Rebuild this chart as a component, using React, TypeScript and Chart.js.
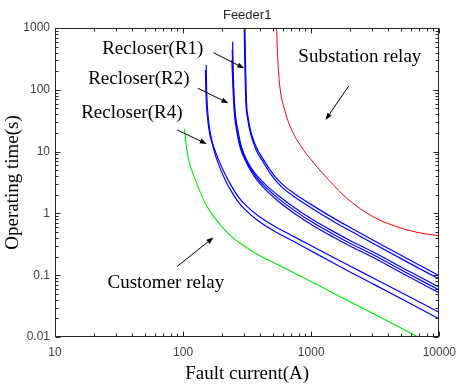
import React, { useEffect, useRef } from "react";
import { Chart, registerables } from "chart.js";

Chart.register(...registerables);

// ---- axis ticks ----
const xTickValues = [10, 100, 1000, 10000];
const xTickLabels = ["10", "100", "1000", "10000"];
const yTickValues = [0.01, 0.1, 1, 10, 100, 1000];
const yTickLabels = ["0.01", "0.1", "1", "10", "100", "1000"];

// ---- curves: fault current (A) vs operating time (s) ----
const r1aCurrent = [303.8, 306.5, 312.0, 322.2, 340.0, 371.7, 421.0, 477.1, 550.2, 634.6, 732, 1045.7, 1494, 2134, 3049, 5591, 10000];
const r1aTime = [1000, 303.9, 68.55, 35.1, 20.07, 11.92, 7.627, 5.063, 3.489, 2.639, 2.127, 1.311, 0.8387, 0.5529, 0.367, 0.1857, 0.0979];
const r1bCurrent = [300.1, 302.7, 308.2, 318.2, 340.0, 371.7, 421.0, 477.1, 550.2, 634.6, 732, 1045.7, 1494, 2134, 3049, 5591, 10000];
const r1bTime = [1000, 303.9, 68.55, 35.1, 17.95, 10.66, 6.822, 4.495, 3.097, 2.334, 1.881, 1.16, 0.7418, 0.489, 0.3246, 0.1643, 0.0866];

const r2aCurrent = [243.6, 245.8, 251.0, 257.8, 267.2, 284.4, 312.6, 363.1, 434.0, 550.2, 732, 1045.7, 1494, 2134, 3049, 5591, 10000];
const r2aTime = [600.4, 209.4, 68.55, 35.1, 22.44, 12.37, 7.347, 4.479, 3.007, 1.96, 1.254, 0.7727, 0.5075, 0.342, 0.2374, 0.1206, 0.0638];
const r2bCurrent = [241.8, 244.5, 249.3, 255.6, 264.3, 280.4, 312.6, 363.1, 434.0, 550.2, 732, 1045.7, 1494, 2134, 3049, 5591, 10000];
const r2bTime = [440.9, 209.4, 68.55, 35.1, 22.44, 12.37, 6.949, 4.156, 2.74, 1.766, 1.13, 0.6964, 0.4572, 0.3082, 0.214, 0.1087, 0.0575];
const r2cCurrent = [240.1, 247.5, 253.3, 261.5, 276.4, 312.6, 363.1, 434.0, 550.2, 732, 1045.7, 1494, 2134, 3049, 5591, 10000];
const r2cTime = [303.9, 68.55, 35.1, 22.44, 12.37, 6.571, 3.858, 2.496, 1.591, 1.018, 0.6273, 0.4119, 0.2777, 0.1928, 0.0979, 0.0518];

const r4aCurrent = [151.5, 152.3, 153.7, 156.4, 161.6, 169.6, 180.5, 193.9, 213.8, 239.3, 269.6, 303.8, 385.2, 512.3, 732, 1045.7, 1494, 2134, 3049, 5591, 10000];
const r4aTime = [252.2, 119.8, 68.55, 39.23, 22.44, 13.83, 9.533, 6.571, 4.204, 2.74, 1.853, 1.402, 0.9138, 0.625, 0.4212, 0.285, 0.1935, 0.1319, 0.0902, 0.047, 0.02497];
const r4bCurrent = [149.4, 150.2, 151.5, 154.3, 159.3, 169.6, 180.5, 193.9, 213.8, 239.3, 269.6, 303.8, 385.2, 512.3, 732, 1045.7, 1494, 2134, 3049, 5591, 10000];
const r4bTime = [209.4, 119.8, 68.55, 39.23, 22.44, 12.84, 8.215, 5.456, 3.425, 2.233, 1.539, 1.164, 0.7586, 0.5189, 0.3499, 0.2339, 0.1571, 0.1059, 0.0719, 0.0371, 0.01953];

const substationCurrent = [537.7, 546.3, 558.1, 573.3, 623.3, 703.8, 829.1, 1045.7, 1391, 1918, 3049, 4677, 6680, 10000];
const substationTime = [1000, 366, 173.9, 99.47, 45.51, 22.44, 12.37, 6.571, 3.362, 1.72, 0.8805, 0.6067, 0.4943, 0.4341];

const customerCurrent = [102.3, 105.7, 110.5, 124.6, 148.9, 169.6, 200.1, 242.3, 303.8, 378.4, 488.3, 732, 1391, 2519, 4571, 6839];
const customerTime = [23.29, 12.84, 7.347, 3.489, 1.466, 0.9484, 0.6134, 0.4104, 0.2914, 0.218, 0.1667, 0.1095, 0.055, 0.0292, 0.0155, 0.01];

// ---- annotations (data coordinates) ----
const labelTexts = ["Recloser(R1)", "Recloser(R2)", "Recloser(R4)", "Substation relay", "Customer relay"];
const labelCurrent = [58.0, 45.1, 39.8, 2397, 73.3];
const labelTime = [452, 148, 41.8, 336, 0.0746];
const arrowFromCurrent = [172.6, 130.5, 89.7, 1963, 89.7];
const arrowFromTime = [399, 106, 22.4, 115.5, 0.1384];
const arrowToCurrent = [300, 225.6, 153.1, 1295, 172.6];
const arrowToTime = [223, 60.6, 13.3, 32.6, 0.4075];

const chartTitle = "Feeder1";
const xTitle = "Fault current(A)";
const yTitle = "Operating time(s)";

const zip = (xs: number[], ys: number[]) => xs.map((v, i) => ({ x: v, y: ys[i] }));

const SERIF = "'Liberation Serif', 'Times New Roman', serif";
const SANS = "'Liberation Sans', Arial, sans-serif";

const overlayPlugin = {
  id: "overlay",
  afterDraw(chart: any) {
    const { ctx, chartArea } = chart;
    const xs = chart.scales.x;
    const ys = chart.scales.y;
    const L = Math.round(chartArea.left) + 0.5;
    const R = Math.round(chartArea.right) - 0.5;
    const T = Math.round(chartArea.top) + 0.5;
    const B = Math.round(chartArea.bottom) - 0.5;
    ctx.save();
    ctx.strokeStyle = "#262626";
    ctx.lineWidth = 1;
    ctx.strokeRect(L, T, R - L, B - T);
    // major + minor ticks, pointing inward on all four sides
    ctx.beginPath();
    const xmin = Math.round(Math.log10(xTickValues[0]));
    const xmax = Math.round(Math.log10(xTickValues[xTickValues.length - 1]));
    for (let k = xmin; k <= xmax; k++) {
      for (let m = 1; m <= 9; m++) {
        const v = m * Math.pow(10, k);
        if (v > xTickValues[xTickValues.length - 1] * 1.0001) break;
        const p = Math.round(xs.getPixelForValue(v)) + 0.5;
        const len = m === 1 ? 5 : 3;
        ctx.moveTo(p, B);
        ctx.lineTo(p, B - len);
        ctx.moveTo(p, T);
        ctx.lineTo(p, T + len);
      }
    }
    const ymin = Math.round(Math.log10(yTickValues[0]));
    const ymax = Math.round(Math.log10(yTickValues[yTickValues.length - 1]));
    for (let k = ymin; k <= ymax; k++) {
      for (let m = 1; m <= 9; m++) {
        const v = m * Math.pow(10, k);
        if (v > yTickValues[yTickValues.length - 1] * 1.0001) break;
        const p = Math.round(ys.getPixelForValue(v)) + 0.5;
        const len = m === 1 ? 5 : 3;
        ctx.moveTo(L, p);
        ctx.lineTo(L + len, p);
        ctx.moveTo(R, p);
        ctx.lineTo(R - len, p);
      }
    }
    ctx.stroke();

    // title
    ctx.fillStyle = "#262626";
    ctx.font = `13px ${SANS}`;
    ctx.textAlign = "center";
    ctx.textBaseline = "middle";
    ctx.fillText(chartTitle, (chartArea.left + chartArea.right) / 2, 15);

    // labels
    ctx.fillStyle = "#000";
    ctx.font = `19px ${SERIF}`;
    labelTexts.forEach((t, i) => {
      ctx.fillText(t, xs.getPixelForValue(labelCurrent[i]), ys.getPixelForValue(labelTime[i]));
    });

    // arrows
    ctx.strokeStyle = "#000";
    ctx.lineWidth = 1;
    arrowFromCurrent.forEach((_, i) => {
      const x1 = xs.getPixelForValue(arrowFromCurrent[i]);
      const y1 = ys.getPixelForValue(arrowFromTime[i]);
      const x2 = xs.getPixelForValue(arrowToCurrent[i]);
      const y2 = ys.getPixelForValue(arrowToTime[i]);
      const a = Math.atan2(y2 - y1, x2 - x1);
      const hl = 7;
      const hw = 2.6;
      const bx = x2 - hl * Math.cos(a);
      const by = y2 - hl * Math.sin(a);
      ctx.beginPath();
      ctx.moveTo(x1, y1);
      ctx.lineTo(bx, by);
      ctx.stroke();
      ctx.beginPath();
      ctx.moveTo(x2, y2);
      ctx.lineTo(bx + hw * Math.sin(a), by - hw * Math.cos(a));
      ctx.lineTo(bx - hw * Math.sin(a), by + hw * Math.cos(a));
      ctx.closePath();
      ctx.fill();
    });
    ctx.restore();
  },
};

export default function App() {
  const ref = useRef<HTMLCanvasElement | null>(null);

  useEffect(() => {
    if (!ref.current) return;
    const blue = "#0000ff";
    const mk = (xs: number[], ys: number[], color: string, w: number) => ({
      data: zip(xs, ys),
      borderColor: color,
      backgroundColor: color,
      borderWidth: w,
      pointRadius: 0,
      fill: false,
      cubicInterpolationMode: "monotone" as const,
    });
    const chart = new Chart(ref.current, {
      type: "line",
      data: {
        datasets: [
          mk(r1aCurrent, r1aTime, blue, 1.2),
          mk(r1bCurrent, r1bTime, blue, 1.2),
          mk(r2aCurrent, r2aTime, blue, 1.2),
          mk(r2bCurrent, r2bTime, blue, 1.2),
          mk(r2cCurrent, r2cTime, blue, 1.2),
          mk(r4aCurrent, r4aTime, blue, 1.2),
          mk(r4bCurrent, r4bTime, blue, 1.2),
          mk(substationCurrent, substationTime, "#ff0000", 1),
          mk(customerCurrent, customerTime, "#00ee00", 1.1),
        ],
      },
      plugins: [overlayPlugin],
      options: {
        responsive: false,
        animation: false,
        devicePixelRatio: 1,
        layout: { padding: { left: 0, right: 21, top: 28, bottom: 0 } },
        plugins: { legend: { display: false }, tooltip: { enabled: false }, title: { display: false } },
        scales: {
          x: {
            type: "logarithmic",
            min: xTickValues[0],
            max: xTickValues[xTickValues.length - 1],
            grid: { display: false, drawTicks: false },
            border: { display: false },
            afterBuildTicks: (s: any) => {
              s.ticks = xTickValues.map((v) => ({ value: v }));
            },
            afterFit: (s: any) => {
              s.height = 52;
            },
            ticks: {
              autoSkip: false,
              maxRotation: 0,
              padding: 8,
              color: "#404040",
              font: { family: SANS, size: 12 },
              callback: (_v: any, i: number) => xTickLabels[i],
            },
            title: {
              display: true,
              text: xTitle,
              color: "#000",
              font: { family: SERIF, size: 19 },
              padding: { top: 0, bottom: 4 },
            },
          },
          y: {
            type: "logarithmic",
            min: yTickValues[0],
            max: yTickValues[yTickValues.length - 1],
            grid: { display: false, drawTicks: false },
            border: { display: false },
            afterBuildTicks: (s: any) => {
              s.ticks = yTickValues.map((v) => ({ value: v }));
            },
            afterFit: (s: any) => {
              s.width = 55;
            },
            ticks: {
              autoSkip: false,
              padding: 5,
              color: "#404040",
              font: { family: SANS, size: 12 },
              callback: (_v: any, i: number) => yTickLabels[i],
            },
            title: {
              display: true,
              text: yTitle,
              color: "#000",
              font: { family: SERIF, size: 19 },
              padding: { top: 2, bottom: 0 },
            },
          },
        },
      },
    } as any);
    return () => chart.destroy();
  }, []);

  return (
    <div style={{ position: "absolute", left: 0, top: 0, width: 464, height: 389, background: "#fff" }}>
      <canvas ref={ref} width={464} height={389} />
    </div>
  );
}
